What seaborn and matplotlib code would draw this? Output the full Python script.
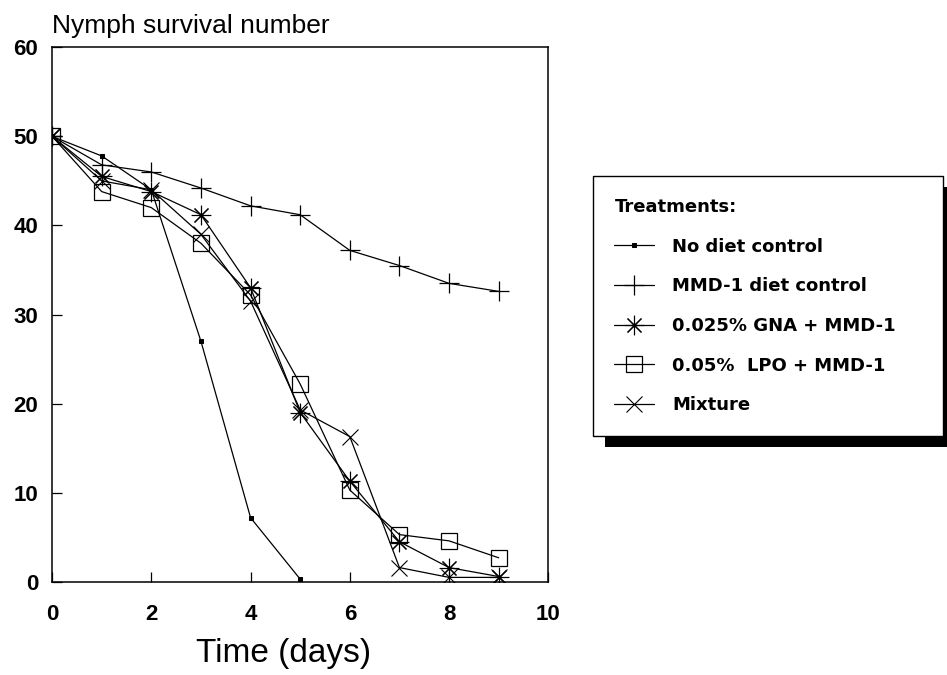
import numpy as np
import pandas as pd
import matplotlib
matplotlib.use("Agg")
import matplotlib.pyplot as plt
from matplotlib.patches import Rectangle
import seaborn as sns

sns.set_style("ticks")
plt.rcParams['font.family'] = ['Liberation Sans', 'DejaVu Sans']
plt.rcParams['text.color'] = 'black'
plt.rcParams['axes.labelcolor'] = 'black'
plt.rcParams['xtick.color'] = 'black'
plt.rcParams['ytick.color'] = 'black'

# -----------------------------
# data
# -----------------------------
days = [0, 1, 2, 3, 4, 5, 6, 7, 8, 9]
no_diet_days = [0, 1, 2, 3, 4, 5]
no_diet = [50, 47.8, 44, 27, 7.2, 0.3]
mmd1 = [50, 46.8, 46, 44.2, 42.2, 41.2, 37.2, 35.5, 33.5, 32.6]
gna = [50, 45.5, 43.8, 41.2, 33, 19, 11.3, 4.5, 1.6, 0.6]
lpo = [50, 43.8, 42, 38, 32.2, 22.2, 10.3, 5.3, 4.6, 2.7]
mixture = [50, 45, 44, 39, 31.5, 19.3, 16.3, 1.6, 0.5, 0.5]

labels = ["No diet control", "MMD-1 diet control", "0.025% GNA + MMD-1",
          "0.05%  LPO + MMD-1", "Mixture"]

fig = plt.figure(figsize=(9.47, 6.75), dpi=100)
ax = fig.add_axes([0.055, 0.138, 0.524, 0.792])

asterisk = (8, 2, 0)
styles = [
    dict(marker="s", markersize=3, markerfacecolor="black"),
    dict(marker="+", markersize=14, markeredgewidth=0.9),
    dict(marker=asterisk, markersize=14, markeredgewidth=0.8),
    dict(marker="s", markersize=12, markerfacecolor="none", markeredgewidth=0.9),
    dict(marker="x", markersize=12, markeredgewidth=0.8),
]
series = [(no_diet_days, no_diet), (days, mmd1), (days, gna), (days, lpo), (days, mixture)]

for (x, y), lab, st in zip(series, labels, styles):
    sns.lineplot(x=x, y=y, ax=ax, color="black", linewidth=0.9, label=lab,
                 markeredgecolor="black", **st)

ax.set_xlim(0, 10)
ax.set_ylim(0, 60)
ax.set_xticks([0, 2, 4, 6, 8, 10])
ax.set_yticks([0, 10, 20, 30, 40, 50, 60])
ax.tick_params(direction="in", length=7, width=0.9, labelsize=16)
ax.tick_params(axis="x", pad=16)
ax.tick_params(axis="y", pad=10)
for t in ax.get_xticklabels() + ax.get_yticklabels():
    t.set_fontweight("bold")
for s in ax.spines.values():
    s.set_visible(True)
    s.set_linewidth(1.1)
    s.set_color("black")

ax.set_xlabel("Time (days)", fontsize=24, labelpad=10)
ax.xaxis.set_label_coords(0.466, -0.105)
ax.set_ylabel("")
ax.set_title("Nymph survival number", loc="left", fontsize=19, pad=10)

handles, labs = ax.get_legend_handles_labels()
ax.get_legend().remove()
leg_font = {"family": "DejaVu Sans", "weight": "bold", "size": 13}
leg = fig.legend(handles, labs, title="Treatments:", loc="upper left",
                 bbox_to_anchor=(0.626, 0.360, 0.370, 0.379), mode="expand",
                 frameon=True, fancybox=False, edgecolor="black",
                 facecolor="white", framealpha=1,
                 prop=leg_font, title_fontproperties=leg_font,
                 alignment="left", handlelength=2.2, labelspacing=1.2,
                 borderpad=1.2, handletextpad=1.0, borderaxespad=0)
leg.get_frame().set_linewidth(1.0)

# thick black drop shadow under the legend box
fig.canvas.draw()
bb = leg.get_window_extent().transformed(fig.transFigure.inverted())
shadow = Rectangle((bb.x0 + 0.013, bb.y0 - 0.016), bb.width, bb.height,
                   transform=fig.transFigure, facecolor="black",
                   edgecolor="none", zorder=leg.get_zorder() - 1)
fig.patches.append(shadow)

fig.savefig("out.png", dpi=100)
